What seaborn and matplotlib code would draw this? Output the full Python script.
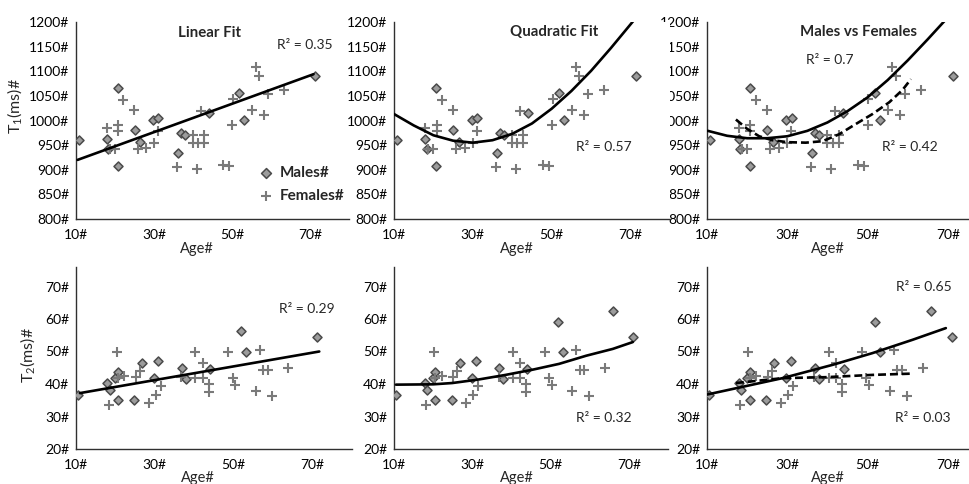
import matplotlib
matplotlib.use("Agg")
import matplotlib.pyplot as plt
import seaborn as sns

# ---- T1 data (top row) ----
age_m_t1 = [10.8, 17.9, 18.3, 20.7, 20.7, 25.0, 26.5, 29.7, 31.1, 36.2, 37.0, 38.0, 44.0, 51.9, 53.2, 71.3]
t1_m = [960, 962, 942, 1067, 908, 980, 957, 1002, 1006, 935, 975, 971, 1016, 1055, 1002, 1090]
age_f_t1 = [17.9, 18.7, 20.0, 20.8, 20.8, 22.1, 24.9, 25.8, 28.0, 30.0, 31.0, 35.9, 40.0, 40.0, 41.3,
            41.0, 42.0, 42.8, 42.8, 47.7, 49.2, 50.0, 50.2, 55.1, 56.2, 57.0, 58.2, 59.3, 63.3]
t1_f = [985, 942, 942, 991, 979, 1042, 1021, 942, 944, 954, 979, 905, 970, 954, 954,
        901, 1019, 970, 954, 909, 907, 991, 1043, 1021, 1109, 1090, 1011, 1054, 1061]

# ---- T2 data (bottom row) ----
age_m_t2 = [10.5, 17.9, 18.5, 19.9, 20.6, 20.6, 24.7, 26.8, 29.8, 30.9, 36.8, 37.9, 44.1, 51.8, 53.1, 65.9, 71.0]
t2_m = [36.6, 40.3, 38.3, 41.8, 43.8, 35.0, 35.0, 46.5, 41.8, 47.1, 44.8, 41.6, 44.6, 59.0, 49.8, 62.5, 54.4]
# linear-fit panel shows one male lower and lacks the 66 y point
age_m_t2_lin = [10.5, 17.9, 18.5, 19.9, 20.6, 20.6, 24.7, 26.8, 29.8, 30.9, 36.8, 37.9, 44.1, 51.8, 53.1, 71.0]
t2_m_lin = [36.6, 40.3, 38.3, 41.8, 43.8, 35.0, 35.0, 46.5, 41.8, 47.1, 44.8, 41.6, 44.6, 56.4, 49.8, 54.4]
age_f_t2 = [18.3, 20.3, 20.6, 22.3, 25.1, 26.2, 28.4, 30.3, 31.5, 36.7, 40.3, 40.3, 42.2, 42.2, 43.7,
            43.7, 48.6, 49.7, 50.3, 55.6, 56.6, 57.4, 58.6, 59.7, 63.8]
t2_f = [33.6, 49.7, 41.8, 42.5, 42.3, 44.1, 34.3, 36.7, 39.3, 42.3, 49.7, 42.0, 42.0, 46.4, 40.1,
        37.5, 49.7, 42.0, 39.7, 37.7, 50.5, 44.2, 44.2, 36.2, 44.9]

# ---- trendlines ----
trend_lin_t1_age = [10.4, 70.9]
trend_lin_t1 = [920, 1094]
trend_quad_t1_age = [9.6, 15, 20, 25, 30, 35, 40, 45, 50, 55, 60, 65, 71]
trend_quad_t1 = [1015, 990, 970, 959, 955, 960, 973, 994, 1024, 1060, 1101, 1147, 1205]
trend_m_t1_age = [10.2, 15, 20, 25, 30, 35, 40, 45, 50, 55, 60, 65, 69.5]
trend_m_t1 = [979, 969, 964, 964, 968, 979, 996, 1019, 1047, 1082, 1122, 1165, 1205]
trend_f_t1_age = [17.2, 20.0, 23.0, 26.3, 30.0, 34.6, 38.8, 42.9, 47.1, 51.2, 55.4, 58.7, 60.8]
trend_f_t1 = [1002, 983, 968, 960, 956, 955, 958, 972, 993, 1013, 1037, 1062, 1084]

trend_lin_t2_age = [11.0, 71.7]
trend_lin_t2 = [37.2, 50.0]
trend_quad_t2_age = [10.5, 20.0, 24.9, 31.7, 38.5, 45.4, 52.2, 59.1, 65.9, 71.0]
trend_quad_t2 = [39.8, 39.9, 40.3, 41.4, 42.8, 44.4, 46.2, 48.7, 50.8, 52.9]
trend_m_t2_age = [9.8, 28.8, 41.3, 51.2, 61.2, 69.5]
trend_m_t2 = [36.7, 41.8, 45.9, 49.5, 53.6, 57.2]
trend_f_t2_age = [17.2, 28.8, 39.6, 51.2, 61.2]
trend_f_t2 = [40.3, 41.8, 42.1, 42.8, 43.2]

x_ticks = [10, 30, 50, 70]
t1_ticks = list(range(800, 1201, 50))
t2_ticks = list(range(20, 71, 10))

W, H = 969, 484


def box(left, top, right, bottom):
    return [left / W, (H - bottom) / H, (right - left) / W, (bottom - top) / H]


def style_axes(ax, yticks, ylim):
    ax.set_xlim(10, 80)
    ax.set_ylim(*ylim)
    ax.set_xticks(x_ticks)
    ax.set_xticklabels([f"{t}#" for t in x_ticks])
    ax.set_yticks(yticks)
    ax.set_yticklabels([f"{t}#" for t in yticks])
    ax.tick_params(axis="both", length=0, labelsize=10, colors="black")
    ax.tick_params(axis="x", pad=7)
    ax.tick_params(axis="y", pad=5)
    sns.despine(ax=ax)
    for side in ("left", "bottom"):
        ax.spines[side].set_color("#303030")
        ax.spines[side].set_linewidth(1.0)
    ax.set_facecolor("white")
    ax.grid(False)


def scatter(ax, xm, ym, xf, yf, legend=False):
    sns.scatterplot(x=xm, y=ym, marker="D", s=21, color="#9c9c9c", edgecolor="#4a4a4a",
                    linewidth=1.1, ax=ax, zorder=3, label="Males#" if legend else None)
    sns.scatterplot(x=xf, y=yf, marker="+", s=46, color="#7a7a7a", linewidth=1.5,
                    ax=ax, zorder=3, label="Females#" if legend else None)


def trend(ax, x, y, dashed=False):
    ls = (0, (3.0, 1.5)) if dashed else "-"
    sns.lineplot(x=x, y=y, color="black", linewidth=1.9, linestyle=ls, ax=ax,
                 sort=False, estimator=None, zorder=4)


def note(ax, x, y, s, **kw):
    ax.text(x, y, s, transform=ax.transAxes, va="center", **kw)


def plot_relaxation():
    sns.set_theme(style="white")
    plt.rcParams["font.family"] = ["Lato", "DejaVu Sans"]
    plt.rcParams["mathtext.fontset"] = "custom"
    plt.rcParams["mathtext.rm"] = "Lato"
    plt.rcParams["mathtext.it"] = "Lato:italic"

    fig = plt.figure(figsize=(W / 100, H / 100), dpi=100)
    fig.patch.set_facecolor("white")

    ax1 = fig.add_axes(box(76, 22, 349, 219))
    ax3 = fig.add_axes(box(707, 22, 988, 219))
    ax2 = fig.add_axes(box(394, 22, 670, 219))
    ax4 = fig.add_axes(box(76, 267, 352, 449))
    ax6 = fig.add_axes(box(707, 267, 988, 449))
    ax5 = fig.add_axes(box(394, 267, 668, 449))
    # middle panels sit over the right-hand tick labels, as in the source figure
    ax2.set_zorder(1)
    ax5.set_zorder(1)

    for ax in (ax1, ax2, ax3):
        style_axes(ax, t1_ticks, (800, 1200))
    for ax in (ax4, ax5, ax6):
        style_axes(ax, t2_ticks, (20, 76))

    # top row: T1
    scatter(ax1, age_m_t1, t1_m, age_f_t1, t1_f, legend=True)
    trend(ax1, trend_lin_t1_age, trend_lin_t1)
    scatter(ax2, age_m_t1, t1_m, age_f_t1, t1_f)
    trend(ax2, trend_quad_t1_age, trend_quad_t1)
    scatter(ax3, age_m_t1, t1_m, age_f_t1, t1_f)
    trend(ax3, trend_m_t1_age, trend_m_t1)
    trend(ax3, trend_f_t1_age, trend_f_t1, dashed=True)

    # bottom row: T2
    scatter(ax4, age_m_t2_lin, t2_m_lin, age_f_t2, t2_f)
    trend(ax4, trend_lin_t2_age, trend_lin_t2)
    scatter(ax5, age_m_t2, t2_m, age_f_t2, t2_f)
    trend(ax5, trend_quad_t2_age, trend_quad_t2)
    scatter(ax6, age_m_t2, t2_m, age_f_t2, t2_f)
    trend(ax6, trend_m_t2_age, trend_m_t2)
    trend(ax6, trend_f_t2_age, trend_f_t2, dashed=True)

    ax1.legend(loc="center left", bbox_to_anchor=(0.64, 0.175), frameon=False,
               prop={"weight": "bold", "size": 11}, handletextpad=0.3,
               labelspacing=0.55, handlelength=1.2, borderaxespad=0, markerscale=1.1)

    # titles and R² labels
    note(ax1, 0.49, 0.944, "Linear Fit", ha="center", fontweight="bold", fontsize=10.8)
    note(ax1, 0.735, 0.885, "R² = 0.35", fontsize=10)
    note(ax2, 0.58, 0.949, "Quadratic Fit", ha="center", fontweight="bold", fontsize=10.8)
    note(ax2, 0.66, 0.365, "R² = 0.57", fontsize=10)
    note(ax3, 0.54, 0.949, "Males vs Females", ha="center", fontweight="bold", fontsize=10.8)
    note(ax3, 0.352, 0.807, "R² = 0.7", fontsize=10)
    note(ax3, 0.623, 0.365, "R² = 0.42", fontsize=10)
    note(ax4, 0.737, 0.769, "R² = 0.29", fontsize=10)
    note(ax5, 0.664, 0.170, "R² = 0.32", fontsize=10)
    note(ax6, 0.673, 0.89, "R² = 0.65", fontsize=10)
    note(ax6, 0.670, 0.170, "R² = 0.03", fontsize=10)

    # axis labels
    for ax, xc in ((ax1, 0.443), (ax2, 0.445), (ax3, 0.43)):
        ax.set_xlabel("Age#", fontsize=10.5)
        ax.xaxis.set_label_coords(xc, -0.115)
    for ax, xc in ((ax4, 0.443), (ax5, 0.449), (ax6, 0.43)):
        ax.set_xlabel("Age#", fontsize=10.5)
        ax.xaxis.set_label_coords(xc, -0.12)
    for ax in (ax2, ax3, ax5, ax6):
        ax.set_ylabel("")
    ax1.set_ylabel("T$_1$(ms)#", fontsize=11.5)
    ax1.yaxis.set_label_coords(-0.19, 0.575)
    ax4.set_ylabel("T$_2$(ms)#", fontsize=11.5)
    ax4.yaxis.set_label_coords(-0.141, 0.516)

    fig.savefig("out.png", dpi=100, facecolor="white")


if __name__ == "__main__":
    plot_relaxation()
